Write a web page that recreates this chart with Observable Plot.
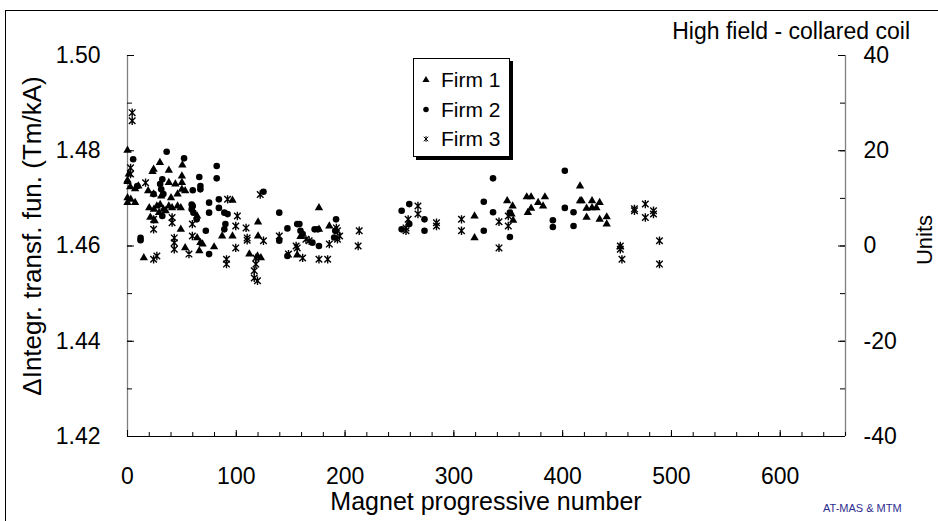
<!DOCTYPE html>
<html><head><meta charset="utf-8">
<script src="https://cdn.jsdelivr.net/npm/d3@7"></script>
<script src="https://cdn.jsdelivr.net/npm/@observablehq/plot@0.6"></script>
<style>
body{margin:0;background:#fff;}
#wrap{position:relative;width:938px;height:521px;overflow:hidden;font-family:"Liberation Sans",Arial,sans-serif;color:#000;}
#wrap svg.plot{position:absolute;left:0;top:0;}
.ov{position:absolute;white-space:nowrap;line-height:normal;}
#frame{position:absolute;left:5px;top:10px;width:1000px;height:600px;border-left:1.5px solid #000;border-top:1.5px solid #000;}
#title{right:28px;top:18px;font-size:23px;}
#ytitle{left:32px;top:236px;font-size:26px;transform:translate(-50%,-50%) rotate(-90deg);}
#rtitle{left:925px;top:240px;font-size:22px;transform:translate(-50%,-50%) rotate(-90deg);}
#xtitle{left:486px;top:487px;font-size:25px;transform:translateX(-50%);}
#foot{left:823px;top:502px;font-size:11px;color:#2e2e8f;}
#legend{position:absolute;left:413px;top:58px;width:95px;height:97px;border:1px solid #000;background:#fff;box-shadow:3px 3px 0 #000;}
</style></head><body><div id="wrap"><div id="frame"></div></div>
<script>
// ---- data (magnet number, integrated transfer function Tm/kA) ----
const firm1 = [[0,1.4801],[29.8,1.4775],[50.4,1.477],[24,1.4761],[23,1.4756],[38,1.4759],[1.2,1.4751],[50,1.4747],[0,1.4738],[0,1.4735],[38,1.4733],[44,1.473],[50,1.4733],[2.5,1.4724],[7,1.472],[10,1.4726],[19,1.4716],[24,1.4709],[31,1.4705],[40,1.4701],[46,1.4709],[50,1.4719],[53,1.4716],[0,1.4701],[3,1.4698],[7,1.4691],[0,1.4691],[20,1.468],[24.3,1.4677],[27,1.4684],[30,1.4687],[33,1.4677],[35,1.4674],[29,1.467],[21,1.466],[25,1.4653],[38,1.4684],[41,1.468],[46,1.4684],[49,1.468],[15,1.4575],[49,1.4635],[53,1.4596],[64,1.4663],[64,1.4617],[67,1.4607],[69,1.4604],[66,1.459],[79.6,1.4598],[96.5,1.4696],[87,1.4621],[96.5,1.4621],[120,1.465],[120,1.4621],[112,1.4583],[119.5,1.4579],[122.6,1.4575],[156,1.4581],[176,1.468],[159,1.462],[176,1.4635],[185.5,1.4642],[319,1.4663],[319,1.4617],[349,1.4695],[354,1.4684],[354.5,1.4654],[353,1.4667],[367,1.4703],[371,1.4703],[368,1.467],[371,1.4679],[377.5,1.4691],[382,1.4684],[383.7,1.4703],[416,1.4726],[416,1.4695],[417.5,1.4695],[427,1.4695],[434,1.4691],[422,1.4679],[427,1.468],[431,1.468],[422,1.466],[434,1.4656],[440.5,1.4661],[440.5,1.4646],[453,1.4598]];
const firm2 = [[36,1.4798],[5.2,1.4782],[52,1.4784],[82,1.4768],[66,1.4745],[82,1.4742],[32,1.474],[9,1.4726],[67,1.4726],[67,1.4719],[60,1.4717],[125,1.4714],[30,1.473],[24,1.4709],[33,1.4709],[31,1.4719],[60,1.4684],[12,1.4617],[12,1.4612],[32,1.4663],[59,1.4687],[59,1.4677],[60.6,1.467],[63.6,1.4656],[75,1.4583],[72,1.4632],[75,1.4691],[75,1.467],[84,1.4698],[84,1.468],[89,1.467],[92,1.4667],[90,1.4646],[89,1.4635],[139.5,1.467],[139.5,1.4611],[147,1.4637],[156,1.4646],[147,1.4579],[158,1.4646],[159,1.4632],[161,1.4625],[172,1.4635],[175,1.4635],[170,1.4607],[176,1.46],[191.7,1.4656],[191,1.4632],[190,1.4618],[252,1.4674],[259,1.4688],[252,1.4635],[259,1.4646],[273,1.4656],[273,1.4632],[327.5,1.4693],[327.5,1.4632],[336,1.4742],[336,1.4671],[351.5,1.467],[351.5,1.4619],[402,1.4758],[402,1.468],[410,1.4671],[410,1.4642],[391,1.4654],[391,1.464]];
const firm3 = [[4.3,1.488],[4.3,1.4863],[2.8,1.4764],[2.8,1.4751],[16.6,1.4733],[122,1.4708],[24,1.4572],[27,1.4579],[24,1.4635],[24,1.4656],[41,1.466],[41,1.4649],[43,1.4617],[43,1.4607],[43,1.4593],[56.5,1.4583],[59.6,1.4646],[59.6,1.4621],[92,1.4698],[101,1.4663],[99.5,1.4642],[99.5,1.4596],[91,1.4572],[91,1.4562],[109,1.4638],[110,1.4617],[110,1.4612],[125,1.4611],[118,1.4575],[118,1.4562],[116.5,1.4548],[116.5,1.4533],[119.5,1.4527],[139.5,1.4621],[148,1.4583],[156,1.4596],[164,1.4614],[167,1.4611],[155,1.46],[161,1.4575],[176,1.4572],[184,1.4572],[185.5,1.4604],[192,1.4638],[193,1.4632],[195,1.4621],[193,1.4614],[213,1.4632],[212,1.46],[267,1.4684],[267,1.4667],[258,1.4656],[256,1.4632],[256,1.4638],[284,1.4649],[284,1.4642],[307,1.4656],[307,1.4632],[341.5,1.4651],[341.5,1.4596],[350,1.4663],[350,1.4642],[466,1.4674],[466,1.4678],[476,1.4688],[483.5,1.4674],[483.5,1.4667],[476,1.466],[453,1.46],[453,1.4593],[454.5,1.4572],[489,1.4611],[489,1.4562]];

const seriesNames = ["Firm 1","Firm 2","Firm 3"];
const xTicks = [0,100,200,300,400,500,600];
const xMinorTicks = [0,20,40,60,80,100,120,140,160,180,200,220,240,260,280,300,320,340,360,380,400,420,440,460,480,500,520,540,560,580,600,620,640,660];
const xDomain = [0,660];
const yTicks = [1.42,1.44,1.46,1.48,1.50];
const yMinorTicks = [1.42,1.43,1.44,1.45,1.46,1.47,1.48,1.49,1.50];
const yDomain = [1.42,1.50];
const unitTicks = [-40,-20,0,20,40];
const unitMinorTicks = [-40,-30,-20,-10,0,10,20,30,40];
const unitZero = 1.46, unitPerY = 1000;
const titleText = "High field - collared coil";
const yLabel = "ΔIntegr. transf. fun. (Tm/kA)";
const xLabel = "Magnet progressive number";
const rLabel = "Units";
const footText = "AT-MAS & MTM";

// ---- layout ----
const W = 938, H = 521, mL = 127, mR = 93, mT = 55, mB = 85;
const pW = W - mL - mR, pH = H - mT - mB;
const unitToY = u => unitZero + u / unitPerY;

const excelStar = {draw(ctx, size){
  const r = Math.sqrt(size/Math.PI), d = r*0.78;
  ctx.moveTo(0,-r); ctx.lineTo(0,r);
  ctx.moveTo(-d,-d); ctx.lineTo(d,d);
  ctx.moveTo(-d,d); ctx.lineTo(d,-d);
}};

const chart = Plot.plot({
  width: W, height: H,
  marginLeft: mL, marginRight: mR, marginTop: mT, marginBottom: mB,
  style: {fontFamily: '"Liberation Sans", Arial, sans-serif', fontSize: "23px", background: "transparent", color: "#000", overflow: "visible"},
  x: {domain: xDomain, label: null},
  y: {domain: yDomain, label: null},
  marks: [
    Plot.ruleX([xDomain[0]], {stroke: "#808080", strokeWidth: 1.3}),
    Plot.ruleX([xDomain[1]], {stroke: "#808080", strokeWidth: 1.3}),
    Plot.ruleY([yDomain[0]], {stroke: "#000", strokeWidth: 1.2}),
    // x ticks (inward)
    Plot.tickX(xMinorTicks, {x: d => d, insetTop: pH - 4, stroke: "#000"}),
    Plot.tickX(xTicks, {x: d => d, insetTop: pH - 6, stroke: "#000"}),
    // left ticks (inward)
    Plot.tickY(yMinorTicks, {y: d => d, insetRight: pW - 5, stroke: "#000"}),
    Plot.tickY(yTicks, {y: d => d, insetRight: pW - 7, stroke: "#000"}),
    // right ticks (inward)
    Plot.tickY(unitMinorTicks, {y: d => unitToY(d), insetLeft: pW - 5, stroke: "#000"}),
    Plot.tickY(unitTicks, {y: d => unitToY(d), insetLeft: pW - 7, stroke: "#000"}),
    Plot.axisX(xTicks, {tickSize: 0, tickPadding: 31, fontSize: 23, tickFormat: d => String(d)}),
    Plot.axisY(yTicks, {anchor: "left", tickSize: 0, tickPadding: 27, fontSize: 23, tickFormat: d => d.toFixed(2)}),
    Plot.axisY(unitTicks.map(unitToY), {anchor: "right", tickSize: 0, tickPadding: 18, fontSize: 23, tickFormat: (d, i) => String(unitTicks[i])}),
    // series
    Plot.dot(firm1, {x: d => d[0], y: d => d[1], symbol: "triangle", r: 3.1, fill: "#000", stroke: "none"}),
    Plot.dot(firm2, {x: d => d[0], y: d => d[1], symbol: "circle", r: 3.3, fill: "#000", stroke: "none"}),
    Plot.dot(firm3, {x: d => d[0], y: d => d[1], symbol: excelStar, r: 4.2, fill: "none", stroke: "#000", strokeWidth: 1.4})
  ]
});
chart.classList.add("plot");
const wrap = document.getElementById("wrap");
wrap.appendChild(chart);

function addText(id, txt){ const d = document.createElement("div"); d.className = "ov"; d.id = id; d.textContent = txt; wrap.appendChild(d); }
addText("title", titleText);
addText("ytitle", yLabel);
addText("rtitle", rLabel);
addText("xtitle", xLabel);
addText("foot", footText);

// legend
const leg = d3.select(wrap).append("div").attr("id", "legend");
const lsvg = leg.append("svg").attr("width", 95).attr("height", 97);
const legSymbols = [d3.symbolTriangle, d3.symbolCircle, excelStar];
seriesNames.forEach((name, i) => {
  const cy = 21 + i * 29.5;
  const sym = d3.symbol(legSymbols[i], i === 0 ? 22 : (i === 1 ? 24 : 26))();
  lsvg.append("path").attr("d", sym).attr("transform", `translate(12,${cy})`)
    .attr("fill", i < 2 ? "#000" : "none").attr("stroke", i < 2 ? "none" : "#000").attr("stroke-width", 1);
  lsvg.append("text").attr("x", 27).attr("y", cy).attr("dy", "0.35em")
    .attr("font-family", '"Liberation Sans", Arial, sans-serif').attr("font-size", 21).text(name);
});
</script></body></html>
